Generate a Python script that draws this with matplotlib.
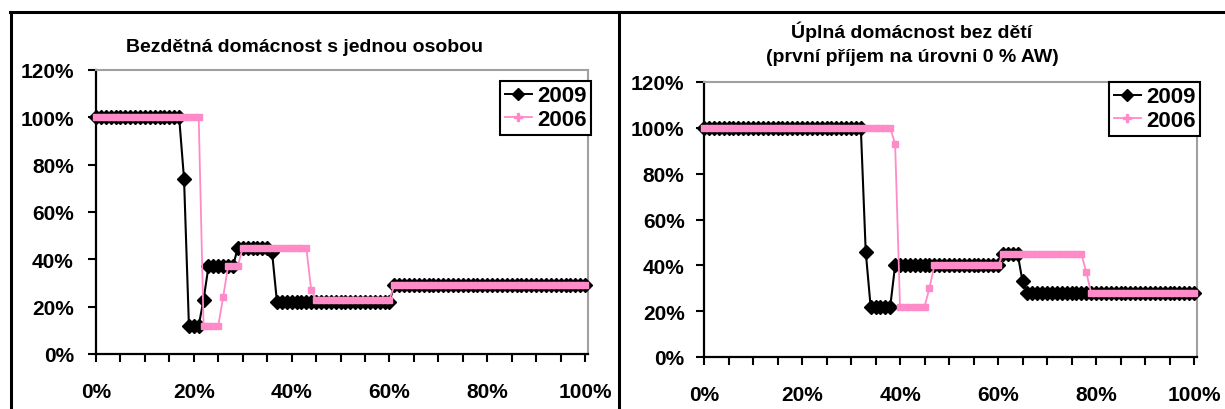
import matplotlib
matplotlib.use("Agg")
import matplotlib.pyplot as plt
from matplotlib.lines import Line2D
from matplotlib.ticker import MultipleLocator, FuncFormatter

plt.rcParams['font.family'] = ['Liberation Sans', 'DejaVu Sans']

# Income level as share of average wage (category grid, 1 % steps)
income = list(range(0, 101))

# Single person without children
single_2009 = [100] * 18 + [74] + [12] * 3 + [23] + [37] * 6 + [45] * 7 + [43] + [22] * 24 + [29] * 40
single_2006 = [100] * 22 + [12] * 4 + [24] + [37] * 3 + [45] * 14 + [27] + [23] * 16 + [29] * 40

# Couple without children (first earner at 0 % AW)
couple_2009 = [100] * 33 + [46] + [22] * 5 + [40] * 22 + [45] * 4 + [33] + [28] * 35
couple_2006 = [100] * 39 + [93] + [22] * 6 + [30] + [40] * 14 + [45] * 17 + [37] + [28] * 22

series_labels = ["2009", "2006"]
titles = ["Bezdětná domácnost s jednou osobou",
          "Úplná domácnost bez dětí\n(první příjem na úrovni 0 % AW)"]

W, H = 1225, 410
DPI = 100
fig = plt.figure(figsize=(W / DPI, H / DPI), dpi=DPI)
fig.patch.set_facecolor("white")


def fx(px):
    return px / W


def fy(py):
    return 1 - py / H


BLACK = "#000000"
PINK = "#ff8ac8"
GREY = "#a0a0a0"


def draw_panel(rect, y09, y06, title, title_xy, legend_xy, ylab_pad):
    left, top, right, bottom = rect
    ax = fig.add_axes([fx(left), fy(bottom), fx(right - left), (bottom - top) / H])
    ax.plot(income, y09, color=BLACK, lw=1.5, marker="D", ms=7,
            mfc=BLACK, mec=BLACK, label=series_labels[0], zorder=3, clip_on=False)
    ax.plot(income, y06, color=PINK, lw=1.3, marker="s", ms=5,
            mfc=PINK, mec=PINK, label=series_labels[1], zorder=4, clip_on=False)
    ax.set_xlim(0, 100.6)
    ax.set_ylim(0, 120)
    ax.xaxis.set_major_locator(MultipleLocator(20))
    ax.xaxis.set_minor_locator(MultipleLocator(5))
    ax.yaxis.set_major_locator(MultipleLocator(20))
    pct = FuncFormatter(lambda v, p: f"{v:.0f}%")
    ax.xaxis.set_major_formatter(pct)
    ax.yaxis.set_major_formatter(pct)
    for s in ("left", "bottom"):
        ax.spines[s].set_color(BLACK)
        ax.spines[s].set_linewidth(1.6)
    for s in ("top", "right"):
        ax.spines[s].set_color(GREY)
        ax.spines[s].set_linewidth(1.5)
    ax.tick_params(axis="both", which="both", direction="out", length=6,
                   width=1.5, color=BLACK)
    ax.tick_params(axis="x", which="major", pad=14, labelsize=15)
    ax.tick_params(axis="y", which="major", pad=ylab_pad, labelsize=15)
    for lab in ax.get_xticklabels() + ax.get_yticklabels():
        lab.set_fontweight("bold")
    fig.text(fx(title_xy[0]), fy(title_xy[1]), title, ha="center", va="center",
             fontsize=14, fontweight="bold", linespacing=1.5)
    handles = [Line2D([], [], color=BLACK, lw=1.4, marker="D", ms=6.5),
               Line2D([], [], color=PINK, lw=1.3, marker="P", ms=5.5)]
    leg = ax.legend(handles, series_labels, loc="upper right",
                    bbox_to_anchor=(fx(legend_xy[0]), fy(legend_xy[1])),
                    bbox_transform=fig.transFigure, borderaxespad=0,
                    fancybox=False, framealpha=1, edgecolor=BLACK,
                    prop=dict(size=16, weight="bold"),
                    handlelength=1.2, handletextpad=0.25,
                    borderpad=0.2, labelspacing=0.12)
    leg.get_frame().set_linewidth(1.5)
    return ax


draw_panel((96, 71, 588, 355), single_2009, single_2006, titles[0],
           (305, 47), (591, 82), 10)
draw_panel((704, 83, 1197, 358), couple_2009, couple_2006, titles[1],
           (912, 44), (1200, 83), 8)

# Chart frames
frame_kw = dict(color=BLACK, lw=2.2, transform=fig.transFigure, clip_on=False)
fig.add_artist(Line2D([fx(10), fx(1225)], [fy(13), fy(13)], **frame_kw))
fig.add_artist(Line2D([fx(11), fx(11)], [fy(13), 0], **frame_kw))
fig.add_artist(Line2D([fx(619), fx(619)], [fy(13), 0], **frame_kw))

fig.savefig("out.png", dpi=DPI)
